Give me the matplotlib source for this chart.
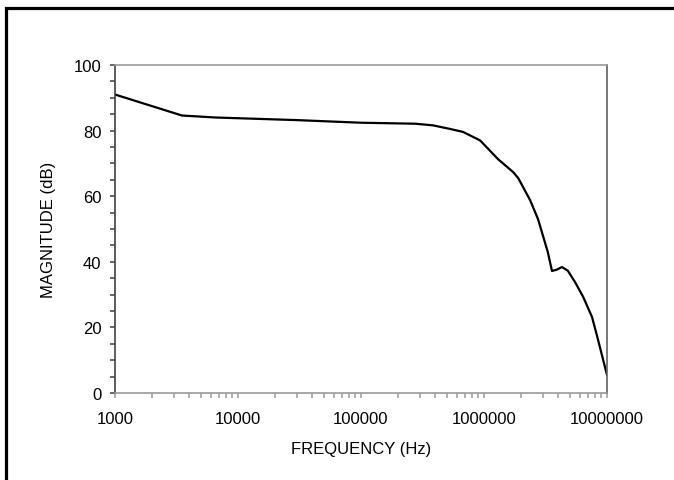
import matplotlib
matplotlib.use("Agg")
import matplotlib.pyplot as plt
from matplotlib.ticker import FixedLocator, FixedFormatter, LogLocator, MultipleLocator, NullFormatter
from matplotlib.patches import Rectangle

# Data
freq_hz = [1000, 3500, 6500, 30000, 100000, 275000, 385000, 530000, 675000,
           930000, 1300000, 1720000, 1900000, 2370000, 2750000, 3300000,
           3570000, 3900000, 4300000, 4800000, 5500000, 6400000, 7550000,
           8300000, 10000000]
magnitude_db = [91.0, 84.6, 84.0, 83.2, 82.4, 82.1, 81.6, 80.5, 79.6,
                77.0, 71.3, 67.4, 65.5, 58.8, 53.0, 43.0,
                37.2, 37.6, 38.4, 37.3, 33.8, 29.3, 23.2,
                17.4, 5.5]
x_ticks = [1000, 10000, 100000, 1000000, 10000000]
x_tick_labels = ["1000", "10000", "100000", "1000000", "10000000"]
y_ticks = [0, 20, 40, 60, 80, 100]
y_tick_labels = ["0", "20", "40", "60", "80", "100"]

plt.rcParams['font.family'] = ['Liberation Sans', 'DejaVu Sans']

fig = plt.figure(figsize=(6.74, 4.81), dpi=100)
ax = fig.add_axes([115/674, 1 - 394/481, (607 - 115)/674, (394 - 66)/481])

ax.plot(freq_hz, magnitude_db, color='black', lw=1.6, solid_joinstyle='round')

ax.set_xscale('log')
ax.set_xlim(1000, 10000000)
ax.set_ylim(0, 100)

ax.xaxis.set_major_locator(FixedLocator(x_ticks))
ax.xaxis.set_major_formatter(FixedFormatter(x_tick_labels))
ax.xaxis.set_minor_locator(LogLocator(base=10, subs=range(2, 10)))
ax.xaxis.set_minor_formatter(NullFormatter())

ax.yaxis.set_major_locator(FixedLocator(y_ticks))
ax.yaxis.set_major_formatter(FixedFormatter(y_tick_labels))
ax.yaxis.set_minor_locator(MultipleLocator(5))

dark = '#404040'
gray = '#9a9a9a'
ax.spines['left'].set_color(dark)
ax.spines['right'].set_color('#606060')
ax.spines['top'].set_color(gray)
ax.spines['bottom'].set_color(gray)
for s in ax.spines.values():
    s.set_linewidth(1.2)

ax.tick_params(axis='x', which='both', direction='out', length=3.8, width=1.1,
               color=gray, labelsize=12, pad=9)
ax.tick_params(axis='y', which='both', direction='out', length=3.8, width=1.1,
               color=dark, labelsize=12, pad=6)

ax.set_xlabel('FREQUENCY (Hz)', fontsize=12, labelpad=11)
ax.set_ylabel('MAGNITUDE (dB)', fontsize=12, labelpad=13)

# Outer black frame (top and left visible)
fig.patches.append(Rectangle((5.5/674, -0.2), 2.0, (1 - 8.5/481) + 0.2,
                             transform=fig.transFigure, fill=False,
                             edgecolor='black', linewidth=2.3, zorder=10))

fig.savefig('out.png', dpi=100, facecolor='white')
